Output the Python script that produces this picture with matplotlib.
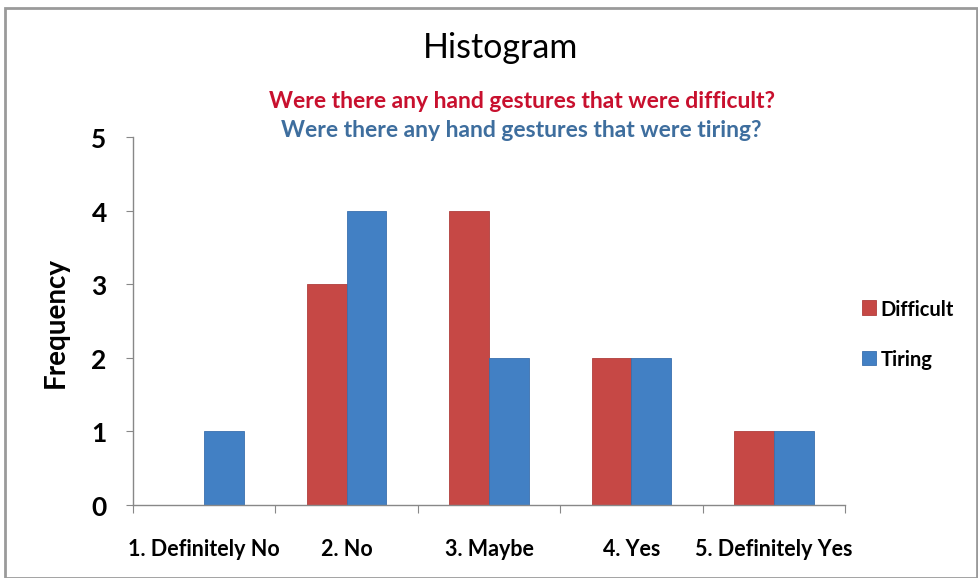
import matplotlib
matplotlib.use("Agg")
import matplotlib.pyplot as plt
import numpy as np
from matplotlib.patches import Rectangle

categories = ["1. Definitely No", "2. No", "3. Maybe", "4. Yes", "5. Definitely Yes"]
difficult = [0, 3, 4, 2, 1]
tiring = [1, 4, 2, 2, 1]
series_names = ["Difficult", "Tiring"]
yticks = [0, 1, 2, 3, 4, 5]

plt.rcParams['font.family'] = ['Lato', 'DejaVu Sans']

fig = plt.figure(figsize=9.79 * np.array([1, 579 / 979]), dpi=100)
fig.patches.append(Rectangle((0.005, 0.0), 0.993, 0.985, transform=fig.transFigure,
                             fill=False, edgecolor='#9a9a9a', linewidth=2.0))

ax = fig.add_axes([0.1359, 0.126, 0.8631 - 0.1359, 0.7617 - 0.126])
x = np.arange(len(categories))
w = 0.28
red = '#C64845'
blue = '#4280C4'
ax.bar(x - w / 2, difficult, w, color=red, edgecolor='#B03E3C', linewidth=0.6, label=series_names[0])
ax.bar(x + w / 2, tiring, w, color=blue, edgecolor='#3A70AE', linewidth=0.6, label=series_names[1])

ax.set_xlim(-0.5, len(categories) - 0.5)
ax.set_ylim(0, 5)
ax.set_yticks(yticks)
ax.set_yticklabels([str(t) for t in yticks], fontsize=19, fontweight='bold')
ax.set_xticks(np.arange(-0.5, len(categories), 1.0))
ax.set_xticklabels([])
ax.set_xticks(x, minor=True)
ax.set_xticklabels(categories, minor=True, fontsize=15.5, fontweight='bold')
ax.tick_params(axis='x', which='minor', length=0, pad=24)
ax.tick_params(axis='x', which='major', length=6, direction='out', color='#888888')
ax.tick_params(axis='y', length=5, direction='out', color='#888888', pad=14)
for s in ['top', 'right']:
    ax.spines[s].set_visible(False)
for s in ['left', 'bottom']:
    ax.spines[s].set_color('#888888')
    ax.spines[s].set_linewidth(1.0)

ax.set_ylabel("Frequency", fontsize=20, fontweight='bold', labelpad=16)

fig.text(0.511, 0.917, "Histogram", ha='center', va='center', fontsize=24.5)
fig.text(0.533, 0.824, "Were there any hand gestures that were difficult?", ha='center', va='center',
         fontsize=16.5, fontweight='bold', color='#C8102E')
fig.text(0.532, 0.775, "Were there any hand gestures that were tiring?", ha='center', va='center',
         fontsize=16.5, fontweight='bold', color='#3E6E9E')

leg = fig.legend(loc='center left', bbox_to_anchor=(0.880, 0.422), frameon=False,
                 borderaxespad=0, borderpad=0,
                 handlelength=0.7, handleheight=0.7, handletextpad=0.25,
                 labelspacing=1.5, prop={'weight': 'bold', 'size': 14.5})

fig.savefig("out.png", dpi=100)
